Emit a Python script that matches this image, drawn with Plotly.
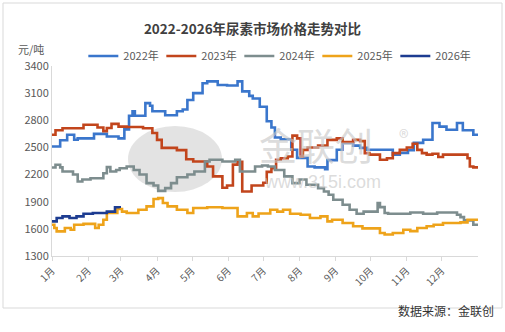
import plotly.graph_objects as go

# ---- data (day of year, price in 元/吨) ----
month_start_days = [0, 31, 59, 90, 120, 151, 181, 212, 243, 273, 304, 334]
month_labels = ["1月", "2月", "3月", "4月", "5月", "6月", "7月", "8月", "9月", "10月", "11月", "12月"]

days_2022 = [0, 7, 13, 19, 22, 36, 47, 57, 62, 66, 69, 71, 80, 84, 86, 97, 107, 112, 116, 121, 129, 133, 142, 150,
             159, 163, 169, 172, 178, 184, 188, 191, 196, 205, 210, 219, 225, 234, 236, 244, 249, 258, 264, 270,
             292, 298, 305, 310, 318, 326, 332, 338, 347, 352, 361, 365]
price_2022 = [2510, 2580, 2640, 2585, 2600, 2650, 2620, 2600, 2700, 2850, 2900, 2850, 2990, 2960, 2900, 2855, 2900,
              2920, 3025, 3100, 3210, 3230, 3190, 3185, 3230, 3120, 3070, 3040, 2950, 2790, 2720, 2610, 2590, 2475,
              2385, 2290, 2280, 2260, 2360, 2475, 2550, 2520, 2495, 2475, 2420, 2440, 2470, 2550, 2585, 2770, 2730,
              2695, 2770, 2690, 2640, 2640]

days_2023 = [0, 3, 9, 27, 39, 44, 47, 51, 57, 64, 78, 86, 90, 94, 107, 115, 121, 133, 138, 146, 150, 155, 159, 163,
             171, 176, 181, 184, 188, 192, 196, 202, 206, 210, 213, 215, 219, 228, 236, 244, 249, 258, 264, 268,
             272, 281, 287, 292, 298, 304, 309, 313, 317, 321, 326, 331, 335, 356, 358, 361, 365]
price_2023 = [2640, 2690, 2712, 2750, 2720, 2680, 2715, 2760, 2730, 2725, 2712, 2660, 2584, 2495, 2470, 2370, 2345,
              2290, 2180, 2055, 2080, 2310, 2340, 2013, 2080, 2080, 2109, 2230, 2270, 2363, 2380, 2400, 2630, 2600,
              2400, 2473, 2500, 2520, 2584, 2600, 2560, 2584, 2570, 2437, 2420, 2363, 2380, 2437, 2473, 2500, 2540,
              2473, 2437, 2420, 2430, 2395, 2420, 2380, 2290, 2280, 2275]

days_2024 = [0, 3, 7, 9, 18, 22, 26, 33, 44, 47, 50, 55, 58, 64, 70, 75, 81, 87, 91, 97, 102, 107, 116, 122, 131,
             135, 146, 157, 161, 174, 180, 185, 191, 199, 206, 212, 218, 228, 233, 237, 241, 249, 255, 261, 267,
             279, 281, 285, 288, 307, 318, 330, 347, 350, 353, 361, 365]
price_2024 = [2278, 2308, 2280, 2234, 2200, 2124, 2145, 2160, 2215, 2282, 2234, 2250, 2270, 2290, 2250, 2200, 2106,
              2080, 2020, 2050, 2106, 2170, 2200, 2234, 2345, 2363, 2345, 2363, 2234, 2290, 2300, 2290, 2250, 2180,
              2106, 2145, 2087, 2050, 2013, 1977, 1922, 1867, 1812, 1767, 1790, 1885, 1840, 1775, 1767, 1780, 1767,
              1780, 1756, 1730, 1694, 1646, 1640]

days_2025 = [0, 2, 4, 11, 16, 19, 27, 37, 40, 44, 47, 56, 60, 64, 74, 81, 87, 91, 95, 99, 107, 116, 121, 133, 146,
             159, 167, 172, 177, 187, 193, 198, 204, 213, 221, 230, 236, 240, 249, 258, 266, 281, 285, 292, 301,
             307, 313, 321, 327, 335, 350, 356, 365]
price_2025 = [1646, 1610, 1572, 1610, 1590, 1646, 1655, 1610, 1646, 1701, 1775, 1819, 1790, 1775, 1812, 1848, 1930,
              1940, 1885, 1848, 1812, 1775, 1830, 1838, 1830, 1738, 1775, 1738, 1770, 1812, 1790, 1812, 1767, 1756,
              1720, 1738, 1683, 1700, 1665, 1628, 1605, 1555, 1537, 1555, 1590, 1575, 1610, 1628, 1646, 1665, 1672,
              1700, 1695]

days_2026 = [0, 4, 9, 15, 21, 27, 35, 47, 54, 58]
price_2026 = [1683, 1720, 1738, 1720, 1738, 1767, 1775, 1790, 1838, 1830]

y_ticks = [1300, 1600, 1900, 2200, 2500, 2800, 3100, 3400]

series = [
    ("2022年", days_2022, price_2022, "#3A76CC"),
    ("2023年", days_2023, price_2023, "#C2451C"),
    ("2024年", days_2024, price_2024, "#7D8D8E"),
    ("2025年", days_2025, price_2025, "#EEA31A"),
    ("2026年", days_2026, price_2026, "#1D3C91"),
]

FONT = "Noto Sans CJK SC, Noto Sans, sans-serif"

fig = go.Figure()
for name, d, p, c in series:
    fig.add_trace(go.Scatter(x=d, y=p, name=name, mode="lines",
                             line=dict(color=c, width=2.6, shape="hv")))

W, H = 505, 332
L, R, T, B = 52, 27, 66, 76
pw, ph = W - L - R, H - T - B


def px(x):
    return (x - L) / pw


def py(y):
    return (H - B - y) / ph


fig.update_layout(
    width=W, height=H,
    margin=dict(l=L, r=R, t=T, b=B, autoexpand=False),
    paper_bgcolor="white", plot_bgcolor="white",
    font=dict(family=FONT, color="#595959", size=11),
    title=dict(text="<b>2022-2026年尿素市场价格走势对比</b>", x=0.5, xref="container", xanchor="center",
               y=1 - 29 / H, yref="container", yanchor="middle",
               font=dict(size=13.5, color="#404040", family=FONT)),
    legend=dict(orientation="h", x=0.165, xref="container", xanchor="left", y=1 - 56 / H, yref="container",
                yanchor="middle", font=dict(size=11, color="#595959", family=FONT),
                entrywidth=33, entrywidthmode="pixels", itemwidth=30,
                bgcolor="rgba(0,0,0,0)", tracegroupgap=0),
    showlegend=True,
    xaxis=dict(range=[0, 365], tickmode="array", tickvals=month_start_days, ticktext=month_labels,
               tickangle=-45, showgrid=False, showline=True, linecolor="#D9D9D9", linewidth=1,
               ticks="outside", tickcolor="#D9D9D9", ticklen=4, zeroline=False,
               tickfont=dict(size=10, color="#595959")),
    yaxis=dict(range=[1300, 3400], tickmode="array", tickvals=y_ticks, showgrid=False,
               showline=True, linecolor="#D9D9D9", linewidth=1, ticks="", zeroline=False,
               tickfont=dict(size=11, color="#595959")),
)

# outer chart border
fig.add_shape(type="rect", xref="paper", yref="paper", x0=px(3), x1=px(502), y0=py(308), y1=py(3),
              line=dict(color="#D9D9D9", width=1), fillcolor="rgba(0,0,0,0)", layer="below")

# watermark logo
fig.add_shape(type="circle", xref="paper", yref="paper", x0=px(128), x1=px(222), y0=py(192), y1=py(126),
              line=dict(width=0), fillcolor="rgba(200,200,200,0.5)", layer="below")
fig.add_annotation(text="金联创", xref="paper", yref="paper", x=px(316), y=py(143), showarrow=False,
                   font=dict(size=38, color="rgba(200,200,200,0.65)", family=FONT))
fig.add_annotation(text="®", xref="paper", yref="paper", x=px(410), y=py(120), showarrow=False,
                   font=dict(size=20, color="rgba(200,200,200,0.65)", family=FONT))
fig.add_annotation(text="www.315i.com", xref="paper", yref="paper", x=px(322), y=py(182), showarrow=False,
                   font=dict(size=18, color="rgba(200,200,200,0.65)", family="Liberation Sans, Arial"))

# unit label
fig.add_annotation(text="元/吨", xref="paper", yref="paper", x=px(16), y=py(39), xanchor="left",
                   showarrow=False, font=dict(size=11, color="#595959", family=FONT))
# source
fig.add_annotation(text="数据来源：金联创", xref="paper", yref="paper", x=px(496), y=py(321), xanchor="right",
                   showarrow=False, font=dict(size=12, color="#333333", family=FONT))

fig.write_html("out.html")
